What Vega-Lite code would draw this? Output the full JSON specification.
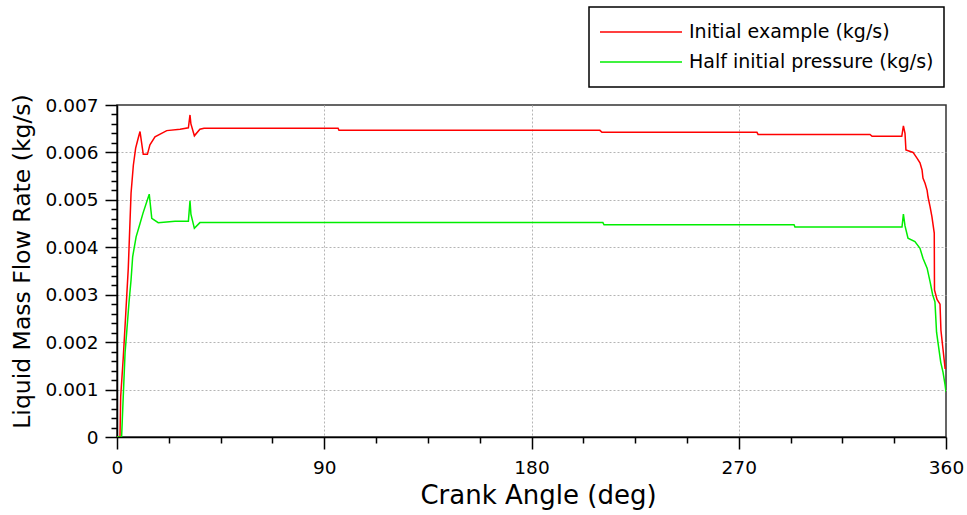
{
  "$schema": "https://vega.github.io/schema/vega-lite/v6.json",
  "autosize": {"type": "none"},
  "padding": {"left": 117, "top": 105, "right": 21, "bottom": 78},
  "width": 829,
  "height": 332,
  "config": {
    "font": "DejaVu Sans",
    "view": {"stroke": "#333333", "strokeWidth": 1.5},
    "background": "white"
  },
  "data": {
    "values": [
      {"series": "Initial example (kg/s)", "angle": 0, "rate": 0},
      {"series": "Initial example (kg/s)", "angle": 1.3, "rate": 0},
      {"series": "Initial example (kg/s)", "angle": 1.6, "rate": 0.00085},
      {"series": "Initial example (kg/s)", "angle": 2.7, "rate": 0.00166},
      {"series": "Initial example (kg/s)", "angle": 3.8, "rate": 0.0026},
      {"series": "Initial example (kg/s)", "angle": 4.9, "rate": 0.00356},
      {"series": "Initial example (kg/s)", "angle": 6.1, "rate": 0.00514},
      {"series": "Initial example (kg/s)", "angle": 7.1, "rate": 0.00573},
      {"series": "Initial example (kg/s)", "angle": 8.1, "rate": 0.00609},
      {"series": "Initial example (kg/s)", "angle": 9.2, "rate": 0.0063},
      {"series": "Initial example (kg/s)", "angle": 10.0, "rate": 0.00644},
      {"series": "Initial example (kg/s)", "angle": 10.4, "rate": 0.0063},
      {"series": "Initial example (kg/s)", "angle": 11.4, "rate": 0.00596},
      {"series": "Initial example (kg/s)", "angle": 13.2, "rate": 0.00596},
      {"series": "Initial example (kg/s)", "angle": 14.3, "rate": 0.00616},
      {"series": "Initial example (kg/s)", "angle": 16.5, "rate": 0.00633},
      {"series": "Initial example (kg/s)", "angle": 21.6, "rate": 0.00646},
      {"series": "Initial example (kg/s)", "angle": 27.4, "rate": 0.00649},
      {"series": "Initial example (kg/s)", "angle": 31.0, "rate": 0.00652},
      {"series": "Initial example (kg/s)", "angle": 31.7, "rate": 0.00679},
      {"series": "Initial example (kg/s)", "angle": 32.1, "rate": 0.0066},
      {"series": "Initial example (kg/s)", "angle": 33.6, "rate": 0.00635},
      {"series": "Initial example (kg/s)", "angle": 36.0, "rate": 0.00649},
      {"series": "Initial example (kg/s)", "angle": 37.8, "rate": 0.00651},
      {"series": "Initial example (kg/s)", "angle": 96.0, "rate": 0.00651},
      {"series": "Initial example (kg/s)", "angle": 96.4, "rate": 0.006465},
      {"series": "Initial example (kg/s)", "angle": 209.7, "rate": 0.006465},
      {"series": "Initial example (kg/s)", "angle": 210.6, "rate": 0.006423},
      {"series": "Initial example (kg/s)", "angle": 277.9, "rate": 0.006423},
      {"series": "Initial example (kg/s)", "angle": 278.4, "rate": 0.00638},
      {"series": "Initial example (kg/s)", "angle": 327.0, "rate": 0.00638},
      {"series": "Initial example (kg/s)", "angle": 327.9, "rate": 0.00634},
      {"series": "Initial example (kg/s)", "angle": 340.8, "rate": 0.00634},
      {"series": "Initial example (kg/s)", "angle": 341.5, "rate": 0.00656},
      {"series": "Initial example (kg/s)", "angle": 342.2, "rate": 0.0064},
      {"series": "Initial example (kg/s)", "angle": 342.6, "rate": 0.00605},
      {"series": "Initial example (kg/s)", "angle": 345.7, "rate": 0.006},
      {"series": "Initial example (kg/s)", "angle": 347.4, "rate": 0.00588},
      {"series": "Initial example (kg/s)", "angle": 348.7, "rate": 0.00578},
      {"series": "Initial example (kg/s)", "angle": 349.6, "rate": 0.00563},
      {"series": "Initial example (kg/s)", "angle": 350.0, "rate": 0.00546},
      {"series": "Initial example (kg/s)", "angle": 350.9, "rate": 0.00535},
      {"series": "Initial example (kg/s)", "angle": 351.8, "rate": 0.0052},
      {"series": "Initial example (kg/s)", "angle": 352.2, "rate": 0.00506},
      {"series": "Initial example (kg/s)", "angle": 353.1, "rate": 0.00485},
      {"series": "Initial example (kg/s)", "angle": 353.9, "rate": 0.00464},
      {"series": "Initial example (kg/s)", "angle": 354.9, "rate": 0.0043},
      {"series": "Initial example (kg/s)", "angle": 355.0, "rate": 0.0031},
      {"series": "Initial example (kg/s)", "angle": 356.1, "rate": 0.0029},
      {"series": "Initial example (kg/s)", "angle": 357.4, "rate": 0.0028},
      {"series": "Initial example (kg/s)", "angle": 357.8, "rate": 0.00225},
      {"series": "Initial example (kg/s)", "angle": 358.7, "rate": 0.00185},
      {"series": "Initial example (kg/s)", "angle": 359.6, "rate": 0.00145},
      {"series": "Initial example (kg/s)", "angle": 360, "rate": 0.00145},
      {"series": "Half initial pressure (kg/s)", "angle": 0, "rate": 0},
      {"series": "Half initial pressure (kg/s)", "angle": 2.0, "rate": 0},
      {"series": "Half initial pressure (kg/s)", "angle": 2.6, "rate": 0.00072},
      {"series": "Half initial pressure (kg/s)", "angle": 3.5, "rate": 0.00177},
      {"series": "Half initial pressure (kg/s)", "angle": 4.2, "rate": 0.0022},
      {"series": "Half initial pressure (kg/s)", "angle": 5.2, "rate": 0.00283},
      {"series": "Half initial pressure (kg/s)", "angle": 6.1, "rate": 0.00331},
      {"series": "Half initial pressure (kg/s)", "angle": 6.8, "rate": 0.0038},
      {"series": "Half initial pressure (kg/s)", "angle": 8.3, "rate": 0.00422},
      {"series": "Half initial pressure (kg/s)", "angle": 10.0, "rate": 0.0045},
      {"series": "Half initial pressure (kg/s)", "angle": 11.3, "rate": 0.00472},
      {"series": "Half initial pressure (kg/s)", "angle": 14.0, "rate": 0.00512},
      {"series": "Half initial pressure (kg/s)", "angle": 15.1, "rate": 0.00461},
      {"series": "Half initial pressure (kg/s)", "angle": 17.9, "rate": 0.00452},
      {"series": "Half initial pressure (kg/s)", "angle": 25.2, "rate": 0.00455},
      {"series": "Half initial pressure (kg/s)", "angle": 31.0, "rate": 0.00455},
      {"series": "Half initial pressure (kg/s)", "angle": 31.7, "rate": 0.00498},
      {"series": "Half initial pressure (kg/s)", "angle": 32.1, "rate": 0.0047},
      {"series": "Half initial pressure (kg/s)", "angle": 33.6, "rate": 0.0044},
      {"series": "Half initial pressure (kg/s)", "angle": 36.0, "rate": 0.00452},
      {"series": "Half initial pressure (kg/s)", "angle": 211.0, "rate": 0.00452},
      {"series": "Half initial pressure (kg/s)", "angle": 211.5, "rate": 0.004475},
      {"series": "Half initial pressure (kg/s)", "angle": 294.0, "rate": 0.004475},
      {"series": "Half initial pressure (kg/s)", "angle": 294.4, "rate": 0.00443},
      {"series": "Half initial pressure (kg/s)", "angle": 340.9, "rate": 0.00443},
      {"series": "Half initial pressure (kg/s)", "angle": 341.5, "rate": 0.0047},
      {"series": "Half initial pressure (kg/s)", "angle": 342.2, "rate": 0.00445},
      {"series": "Half initial pressure (kg/s)", "angle": 343.5, "rate": 0.00419},
      {"series": "Half initial pressure (kg/s)", "angle": 346.5, "rate": 0.00412},
      {"series": "Half initial pressure (kg/s)", "angle": 348.7, "rate": 0.00398},
      {"series": "Half initial pressure (kg/s)", "angle": 350.0, "rate": 0.00377},
      {"series": "Half initial pressure (kg/s)", "angle": 351.8, "rate": 0.00356},
      {"series": "Half initial pressure (kg/s)", "angle": 353.1, "rate": 0.00327},
      {"series": "Half initial pressure (kg/s)", "angle": 354.2, "rate": 0.003},
      {"series": "Half initial pressure (kg/s)", "angle": 355.2, "rate": 0.00285},
      {"series": "Half initial pressure (kg/s)", "angle": 355.9, "rate": 0.00221},
      {"series": "Half initial pressure (kg/s)", "angle": 356.5, "rate": 0.002},
      {"series": "Half initial pressure (kg/s)", "angle": 357.7, "rate": 0.00158},
      {"series": "Half initial pressure (kg/s)", "angle": 358.7, "rate": 0.00137},
      {"series": "Half initial pressure (kg/s)", "angle": 359.6, "rate": 0.0011},
      {"series": "Half initial pressure (kg/s)", "angle": 360, "rate": 0.00095}
    ]
  },
  "mark": {"type": "line", "strokeWidth": 1.5, "clip": true},
  "encoding": {
    "x": {
      "field": "angle",
      "type": "quantitative",
      "scale": {"domain": [0, 360], "nice": false, "zero": false},
      "axis": {
        "title": "Crank Angle (deg)",
        "titleFontSize": 26,
        "titleFontWeight": "normal",
        "titleColor": "#000000",
        "titleX": 421,
        "titleY": 58,
        "titleBaseline": "middle",
        "values": [0, 22.5, 45, 67.5, 90, 112.5, 135, 157.5, 180, 202.5, 225, 247.5, 270, 292.5, 315, 337.5, 360],
        "labelExpr": "datum.value % 90 == 0 ? format(datum.value, 'd') : ''",
        "labelFlush": false,
        "labelOverlap": false,
        "labelFontSize": 18.5,
        "labelColor": "#000000",
        "labelPadding": 9,
        "domainColor": "#000000",
        "domainWidth": 1.5,
        "tickColor": "#000000",
        "tickWidth": 1.5,
        "tickSize": {"condition": {"test": "datum.value % 90 == 0", "value": 12}, "value": 6},
        "grid": true,
        "gridColor": "#b4b4b4",
        "gridDash": [2, 2],
        "gridWidth": 1,
        "gridOpacity": {"condition": {"test": "datum.value % 90 == 0 && datum.value > 0 && datum.value < 360", "value": 1}, "value": 0}
      }
    },
    "y": {
      "field": "rate",
      "type": "quantitative",
      "scale": {"domain": [0, 0.007], "nice": false},
      "axis": {
        "title": "Liquid Mass Flow Rate (kg/s)",
        "titleFontSize": 23.5,
        "titleFontWeight": "normal",
        "titleColor": "#000000",
        "titleX": -95,
        "titleY": 156,
        "titleAngle": -90,
        "titleBaseline": "middle",
        "titleAlign": "center",
        "values": [0, 0.0002, 0.0004, 0.0006, 0.0008, 0.001, 0.0012, 0.0014, 0.0016, 0.0018, 0.002, 0.0022, 0.0024, 0.0026, 0.0028, 0.003, 0.0032, 0.0034, 0.0036, 0.0038, 0.004, 0.0042, 0.0044, 0.0046, 0.0048, 0.005, 0.0052, 0.0054, 0.0056, 0.0058, 0.006, 0.0062, 0.0064, 0.0066, 0.0068, 0.007],
        "labelExpr": "abs(datum.value*1000 - round(datum.value*1000)) < 1e-6 ? format(datum.value, '.3~f') : ''",
        "labelOverlap": false,
        "labelFontSize": 18.5,
        "labelColor": "#000000",
        "labelPadding": 7,
        "domainColor": "#000000",
        "domainWidth": 1.5,
        "tickColor": "#000000",
        "tickWidth": 1.5,
        "tickSize": {"condition": {"test": "abs(datum.value*1000 - round(datum.value*1000)) < 1e-6", "value": 12}, "value": 6},
        "grid": true,
        "gridColor": "#b4b4b4",
        "gridDash": [2, 2],
        "gridWidth": 1,
        "gridOpacity": {"condition": {"test": "abs(datum.value*1000 - round(datum.value*1000)) < 1e-6 && datum.value > 0.0001 && datum.value < 0.0069", "value": 1}, "value": 0}
      }
    },
    "color": {
      "field": "series",
      "type": "nominal",
      "scale": {
        "domain": ["Initial example (kg/s)", "Half initial pressure (kg/s)"],
        "range": ["#ff0000", "#00ee00"]
      },
      "legend": {
        "title": null,
        "orient": "none",
        "legendX": 472,
        "legendY": -98,
        "direction": "vertical",
        "symbolType": "stroke",
        "symbolSize": 6724,
        "symbolStrokeWidth": 1.5,
        "clipHeight": 30,
        "labelFontSize": 19,
        "labelColor": "#000000",
        "labelOffset": 6,
        "rowPadding": 0,
        "padding": 10,
        "strokeColor": "#000000",
        "fillColor": "#ffffff",
        "labelLimit": 400,
        "encode": {"legend": {"update": {"strokeWidth": {"value": 1.5}}}}
      }
    }
  }
}
